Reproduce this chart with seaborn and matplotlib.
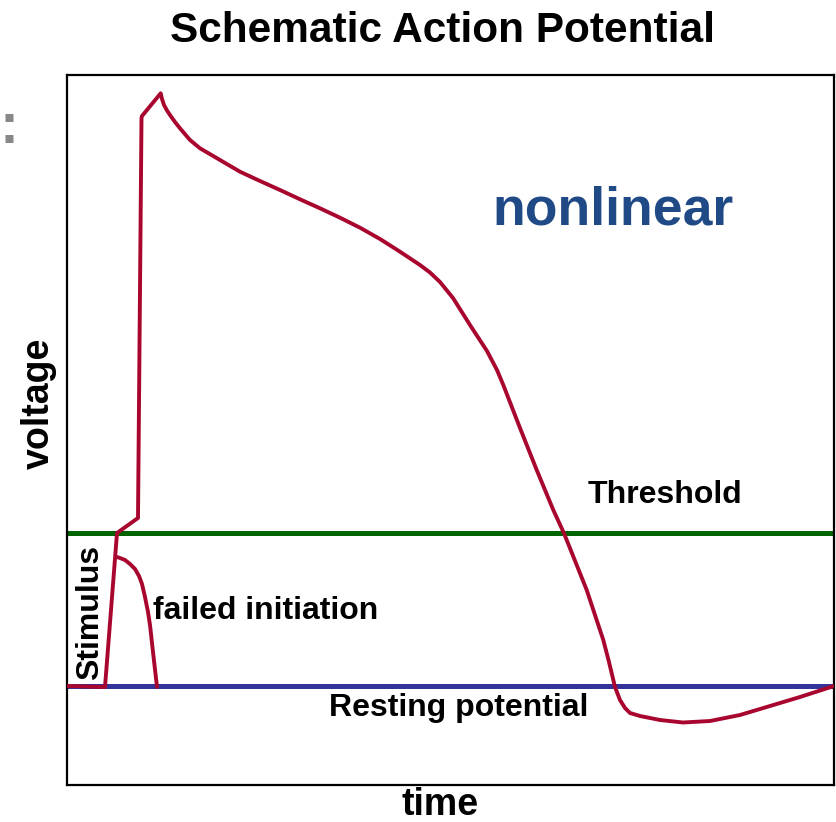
import numpy as np
import pandas as pd
import matplotlib
matplotlib.use("Agg")
import matplotlib.pyplot as plt
import seaborn as sns

# ---- data (time in ms, voltage in mV) ----
# in pixels: x px 67->0 ms, 834->300 ms ; y px 686 -> -85 mV, 533 -> -55 mV
ap_px_x = [67, 105, 117, 138, 141.5, 142, 160.7, 162, 164, 167, 170, 175, 180, 190, 200, 220, 240, 260, 280, 300,
           320, 340, 360, 380, 400, 420, 430, 440, 453, 470, 487, 497, 503.3, 520, 536.7, 553.3, 564, 586.7,
           603.3, 609, 615, 620, 625, 630, 640, 660, 683, 710, 740, 770, 800, 834]
ap_px_y = [686, 687, 533, 518, 118, 116, 93.3, 99, 105, 110.5, 115, 122, 128.3, 140, 148.3, 160, 171.7, 181, 190, 199.3,
           208.3, 217.7, 227.7, 239, 251.7, 265, 272.5, 282, 298, 325, 351, 370, 385, 428, 470, 510, 533.3, 590,
           640, 662, 687, 700, 708, 713, 716, 720, 722.5, 721, 715, 706, 697, 686]
fail_px_x = [117, 120, 125, 130, 135, 139, 142, 145, 148, 150, 153, 157]
fail_px_y = [557, 558, 560, 564, 569, 576, 584, 597, 612, 625, 652, 687]

def px_to_t(px):
    return (np.array(px, float) - 67) / 767 * 300

def px_to_v(py):
    return -85 + (686 - np.array(py, float)) / 5.1

ap_time = px_to_t(ap_px_x)
ap_voltage = px_to_v(ap_px_y)
fail_time = px_to_t(fail_px_x)
fail_voltage = px_to_v(fail_px_y)

threshold_mv = -55
resting_mv = -85

ap_df = pd.DataFrame({"time": ap_time, "voltage": ap_voltage})
fail_df = pd.DataFrame({"time": fail_time, "voltage": fail_voltage})

sns.set_style("white")
plt.rcParams["font.family"] = ["Liberation Sans", "DejaVu Sans"]
plt.rcParams["text.color"] = "black"
plt.rcParams["axes.labelcolor"] = "black"

fig = plt.figure(figsize=(8.36, 8.22), dpi=100)
ax = fig.add_axes([67/836, 37/822, (834-67)/836, (785-75)/822])

red = "#a8062e"
ax.axhline(threshold_mv, color="#006400", lw=3.6, zorder=2)
ax.axhline(resting_mv, color="#333399", lw=3.6, zorder=2)
sns.lineplot(data=ap_df, x="time", y="voltage", sort=False, color=red, lw=2.8, ax=ax, zorder=3)
sns.lineplot(data=fail_df, x="time", y="voltage", sort=False, color=red, lw=2.8, ax=ax, zorder=3)

ax.set_xlim(0, 300)
ax.set_ylim(px_to_v(785), px_to_v(75))
ax.set_xticks([])
ax.set_yticks([])
for s in ax.spines.values():
    s.set_visible(True)
    s.set_color("black")
    s.set_linewidth(1.6)

ax.set_xlabel("time", fontsize=27, fontweight="bold", color="black")
ax.set_ylabel("voltage", fontsize=27, fontweight="bold", color="black")
ax.xaxis.set_label_coords((440 - 67) / 767, (785 - 787) / 710)
ax.yaxis.set_label_coords((57 - 67) / 767, (785 - 403) / 710)
ax.set_title("Schematic Action Potential", fontsize=30.5, fontweight="bold", pad=24,
             color="black", x=(443 - 67) / 767)

ax.text(px_to_t(613), px_to_v(210), "nonlinear", color="#1f4a86", fontsize=38.5,
        fontweight="bold", ha="center", va="center")
ax.text(px_to_t(665), px_to_v(495), "Threshold", color="black", fontsize=23,
        fontweight="bold", ha="center", va="center")
ax.text(px_to_t(266), px_to_v(611), "failed initiation", color="black", fontsize=23,
        fontweight="bold", ha="center", va="center")
ax.text(px_to_t(459), px_to_v(708), "Resting potential", color="black", fontsize=23,
        fontweight="bold", ha="center", va="center")
ax.text(px_to_t(90), px_to_v(612), "Stimulus", color="black", fontsize=23,
        fontweight="bold", ha="center", va="center", rotation=90)

fig.text(9/836, 1 - 128/822, ":", color="#888888", fontsize=41, fontweight="bold",
         ha="center", va="center")

fig.savefig("out.png", dpi=100)
